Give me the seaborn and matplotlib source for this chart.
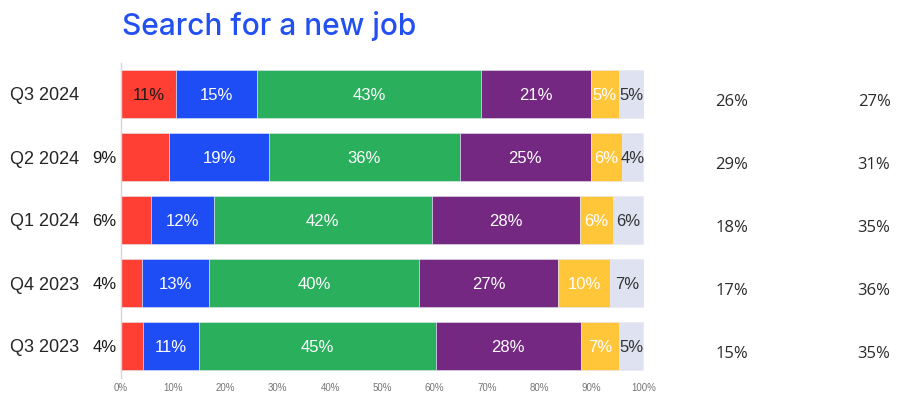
import numpy as np
import pandas as pd
import matplotlib
matplotlib.use("Agg")
import matplotlib.pyplot as plt
import matplotlib.transforms as mtransforms
import seaborn as sns

# Quarters (top to bottom) and the share of answers in each response group
quarters = ["Q3 2024", "Q2 2024", "Q1 2024", "Q4 2023", "Q3 2023"]
seg_red = [10.6, 9.2, 5.7, 4.0, 4.2]
seg_blue = [15.4, 19.1, 12.0, 12.8, 10.7]
seg_green = [42.8, 36.5, 41.7, 40.2, 45.3]
seg_purple = [21.0, 25.0, 28.3, 26.6, 27.7]
seg_yellow = [5.4, 5.9, 6.4, 9.9, 7.4]
seg_gray = [4.8, 4.2, 5.7, 6.7, 4.6]

# Two summary columns printed to the right of the bars
col_a = ["26%", "29%", "18%", "17%", "15%"]
col_b = ["27%", "31%", "35%", "36%", "35%"]

title = "Search for a new job"
x_ticks = [0, 10, 20, 30, 40, 50, 60, 70, 80, 90, 100]

segments = [seg_red, seg_blue, seg_green, seg_purple, seg_yellow, seg_gray]
colors = ["#FF3F33", "#1F4DF5", "#2AAF5C", "#742882", "#FFC63A", "#DFE2F1"]
label_colors = ["#1a1a1a", "white", "white", "white", "white", "#333333"]

sns.set_theme(style="white")
plt.rcParams["font.family"] = ["Liberation Sans", "DejaVu Sans"]

fig = plt.figure(figsize=(9.0, 3.97), dpi=100)
ax = fig.add_axes([121 / 900, 19.5 / 397, 523 / 900, 315 / 397])

left = np.zeros(len(quarters))
for vals, col, lcol in zip(segments, colors, label_colors):
    vals = np.asarray(vals, dtype=float)
    df = pd.DataFrame({"quarter": quarters, "share": vals})
    sns.barplot(data=df, x="share", y="quarter", order=quarters, left=left,
                color=col, saturation=1, errorbar=None, width=0.77,
                edgecolor="#e4e6f2", linewidth=0.4, ax=ax)
    for i, v in enumerate(vals):
        txt = f"{round(v):d}%"
        if col == colors[0] and v < 10:
            ax.text(-0.9, i, txt, ha="right", va="center_baseline", fontsize=12,
                    color="#1a1a1a", clip_on=False)
        else:
            ax.text(left[i] + v / 2, i, txt, ha="center", va="center_baseline",
                    fontsize=12, color=lcol)
    left = left + vals

ax.set_xlim(0, 100)
ax.set_ylim(4.5, -0.5)
ax.set_xticks(x_ticks)
ax.set_xticklabels([f"{t}%" for t in x_ticks], fontsize=7, color="#757575")
ax.tick_params(axis="x", length=0, pad=4)
ax.tick_params(axis="y", length=0, pad=30, labelsize=13, labelcolor="#262626")
for lbl in ax.get_yticklabels():
    lbl.set_verticalalignment("center_baseline")
ax.set_xlabel("")
ax.set_ylabel("")

for s in ["top", "right", "bottom"]:
    ax.spines[s].set_visible(False)
ax.spines["left"].set_color("#d6d6d6")
ax.spines["left"].set_linewidth(1.0)

# Summary columns
trans = mtransforms.blended_transform_factory(ax.transAxes, ax.transData)
for i in range(len(quarters)):
    ax.text(1.168, i + 0.09, col_a[i], transform=trans, ha="center",
            va="center_baseline", fontsize=12, color="#2b2b2b",
            family=["Open Sans", "DejaVu Sans"])
    ax.text(1.44, i + 0.09, col_b[i], transform=trans, ha="center",
            va="center_baseline", fontsize=12, color="#2b2b2b",
            family=["Open Sans", "DejaVu Sans"])

fig.text(122 / 900, 1 - 35 / 397, title, ha="left", va="baseline",
         fontsize=21.5, color="#2350F0", fontweight="medium",
         family=["Inter", "DejaVu Sans"])

fig.savefig("out.png", dpi=100)
